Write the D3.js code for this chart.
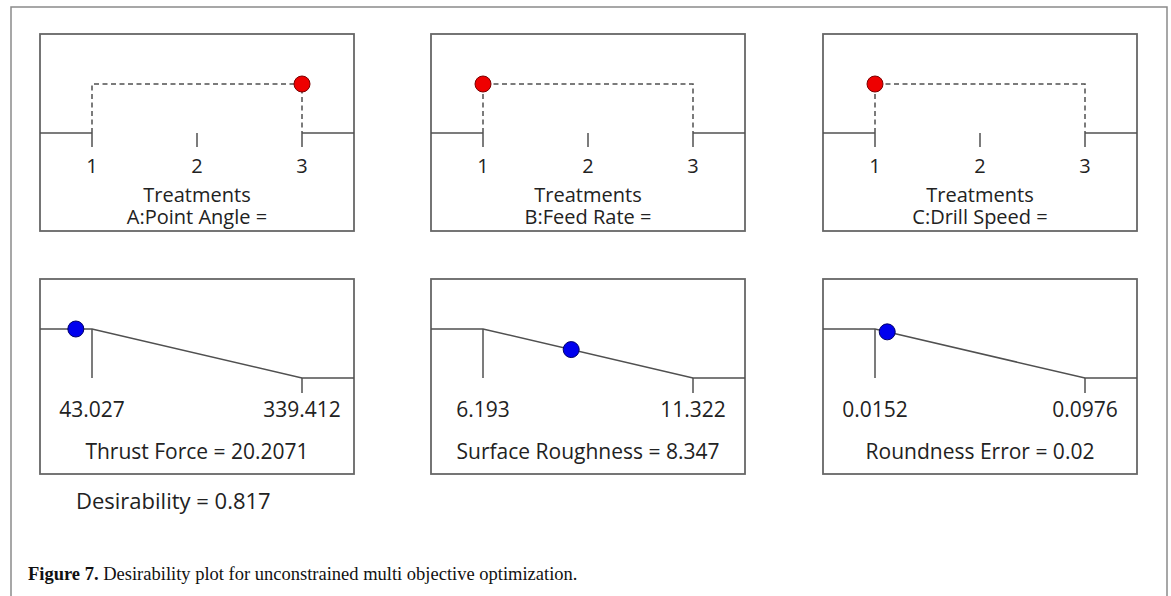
<!DOCTYPE html>
<html>
<head>
<meta charset="utf-8">
<script src="https://cdn.jsdelivr.net/npm/d3@7"></script>
<style>
  html, body { margin: 0; padding: 0; background: #fff; }
  svg { display: block; }
</style>
</head>
<body>
<svg id="chart" width="1171" height="596"></svg>
<script>
// Factors (top row): treatment levels and the chosen level
const factorNames = ["A:Point Angle =", "B:Feed Rate =", "C:Drill Speed ="];
const factorLevels = [1, 2, 3];
const factorChosen = [3, 1, 1];

// Responses (bottom row): minimise ramps with low / high limits and predicted value
const responseNames = ["Thrust Force", "Surface Roughness", "Roundness Error"];
const responseLow = [43.027, 6.193, 0.0152];
const responseHigh = [339.412, 11.322, 0.0976];
const responseLowLabels = ["43.027", "6.193", "0.0152"];
const responseHighLabels = ["339.412", "11.322", "0.0976"];
const responseValue = [20.2071, 8.347, 0.02];
const responseValueLabels = ["20.2071", "8.347", "0.02"];

const overallDesirability = "0.817";
const captionBold = "Figure 7.";
const captionText = " Desirability plot for unconstrained multi objective optimization.";

// ---- layout ----
const svg = d3.select("#chart");
const colX = [40, 431, 823];
const panelW = 314;
const rowY = [34, 279];
const panelH = [197, 195];
const inset = 52;           // distance from panel edge to first/last reference tick
const lineColor = "#505050";
const textColor = "#222";
const font = "'Open Sans', 'Noto Sans', sans-serif";
const topSize = 20;
const bottomSize = 21;

// outer figure frame (open at the bottom)
svg.append("path")
  .attr("d", "M11,600 V7 H1167 V600")
  .attr("fill", "none").attr("stroke", "#8a8a8a").attr("stroke-width", 1.5);

// desirability scale shared by every panel (0 at baseline, 1 at the top plateau)
function dScale(top) {
  return d3.scaleLinear().domain([0, 1]).range([top + 99, top + 50]);
}

function panelFrame(x, y, h) {
  svg.append("rect")
    .attr("x", x).attr("y", y).attr("width", panelW).attr("height", h)
    .attr("fill", "none").attr("stroke", "#666").attr("stroke-width", 1.8);
}

// ---- top row: factor panels ----
factorNames.forEach((name, i) => {
  const x0 = colX[i], y0 = rowY[0];
  panelFrame(x0, y0, panelH[0]);
  const xs = d3.scaleLinear().domain([1, 3]).range([x0 + inset, x0 + panelW - inset]);
  const ys = dScale(y0);
  const g = svg.append("g");

  // solid shoulders outside the level range
  g.append("line").attr("x1", x0).attr("x2", xs(1)).attr("y1", ys(0)).attr("y2", ys(0))
    .attr("stroke", lineColor).attr("stroke-width", 1.5);
  g.append("line").attr("x1", xs(3)).attr("x2", x0 + panelW).attr("y1", ys(0)).attr("y2", ys(0))
    .attr("stroke", lineColor).attr("stroke-width", 1.5);

  // level ticks
  g.selectAll("line.tick").data(factorLevels).join("line")
    .attr("class", "tick")
    .attr("x1", d => xs(d)).attr("x2", d => xs(d))
    .attr("y1", ys(0)).attr("y2", ys(0) + 14)
    .attr("stroke", lineColor).attr("stroke-width", 1.5);

  // dashed plateau over the full level range
  g.append("path")
    .attr("d", d3.line()([[xs(1), ys(0)], [xs(1), ys(1)], [xs(3), ys(1)], [xs(3), ys(0)]]))
    .attr("fill", "none").attr("stroke", lineColor).attr("stroke-width", 1.5)
    .attr("stroke-dasharray", "5,3.5");

  // tick labels
  g.selectAll("text.lvl").data(factorLevels).join("text")
    .attr("class", "lvl")
    .attr("x", d => xs(d)).attr("y", y0 + 139)
    .attr("text-anchor", "middle").attr("font-family", font).attr("font-size", topSize)
    .attr("fill", textColor).text(d => d);

  g.append("text").attr("x", x0 + panelW / 2).attr("y", y0 + 168)
    .attr("text-anchor", "middle").attr("font-family", font).attr("font-size", topSize)
    .attr("fill", textColor).text("Treatments");
  g.append("text").attr("x", x0 + panelW / 2).attr("y", y0 + 190)
    .attr("text-anchor", "middle").attr("font-family", font).attr("font-size", topSize)
    .attr("fill", textColor).text(name);

  // chosen setting
  g.append("circle").attr("cx", xs(factorChosen[i])).attr("cy", ys(1)).attr("r", 8)
    .attr("fill", "#ee0000").attr("stroke", "#7a0000").attr("stroke-width", 1);
});

// ---- bottom row: response panels ----
responseNames.forEach((name, i) => {
  const x0 = colX[i], y0 = rowY[1];
  panelFrame(x0, y0, panelH[1]);
  const lo = responseLow[i], hi = responseHigh[i];
  const xs = d3.scaleLinear().domain([lo, hi]).range([x0 + inset, x0 + panelW - inset]);
  const ys = dScale(y0);
  // minimise ramp: 1 below the low limit, 0 above the high limit
  const ramp = d3.scaleLinear().domain([lo, hi]).range([1, 0]).clamp(true);
  const g = svg.append("g");

  g.append("path")
    .attr("d", d3.line()([[x0, ys(1)], [xs(lo), ys(1)], [xs(hi), ys(0)], [x0 + panelW, ys(0)]]))
    .attr("fill", "none").attr("stroke", lineColor).attr("stroke-width", 1.5);

  // limit ticks
  g.append("line").attr("x1", xs(lo)).attr("x2", xs(lo)).attr("y1", ys(1)).attr("y2", ys(0))
    .attr("stroke", lineColor).attr("stroke-width", 1.5);
  g.append("line").attr("x1", xs(hi)).attr("x2", xs(hi)).attr("y1", ys(0)).attr("y2", ys(0) + 15)
    .attr("stroke", lineColor).attr("stroke-width", 1.5);

  g.append("text").attr("x", xs(lo)).attr("y", y0 + 138)
    .attr("text-anchor", "middle").attr("font-family", font).attr("font-size", bottomSize)
    .attr("fill", textColor).text(responseLowLabels[i]);
  g.append("text").attr("x", xs(hi)).attr("y", y0 + 138)
    .attr("text-anchor", "middle").attr("font-family", font).attr("font-size", bottomSize)
    .attr("fill", textColor).text(responseHighLabels[i]);

  g.append("text").attr("x", x0 + panelW / 2).attr("y", y0 + 180)
    .attr("text-anchor", "middle").attr("font-family", font).attr("font-size", bottomSize)
    .attr("fill", textColor).text(`${name} = ${responseValueLabels[i]}`);

  const v = responseValue[i];
  g.append("circle").attr("cx", xs(v)).attr("cy", ys(ramp(v))).attr("r", 8)
    .attr("fill", "#0000ee").attr("stroke", "#00006a").attr("stroke-width", 1);
});

// overall desirability
svg.append("text").attr("x", 76).attr("y", 509)
  .attr("font-family", font).attr("font-size", 22).attr("fill", textColor)
  .text(`Desirability = ${overallDesirability}`);

// caption
const cap = svg.append("text").attr("x", 28).attr("y", 580)
  .attr("font-family", "'Liberation Serif', 'DejaVu Serif', serif").attr("font-size", 18.5)
  .attr("fill", "#111");
cap.append("tspan").attr("font-weight", "bold").text(captionBold);
cap.append("tspan").text(captionText);
</script>
</body>
</html>
